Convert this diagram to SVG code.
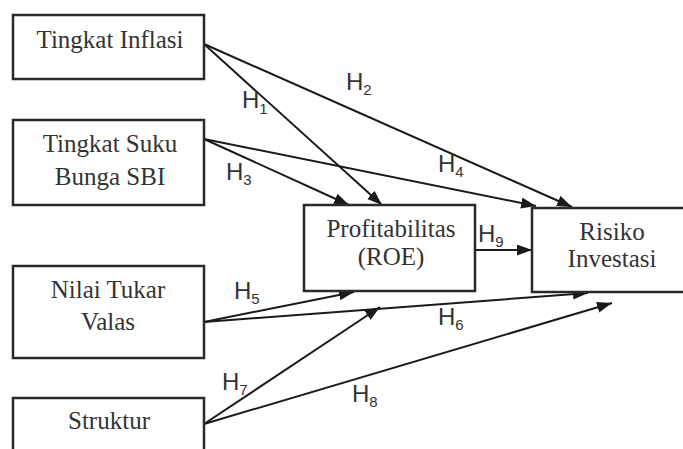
<svg xmlns="http://www.w3.org/2000/svg" width="683" height="449" viewBox="0 0 683 449">
<defs>
<marker id="arr" markerUnits="userSpaceOnUse" markerWidth="16" markerHeight="12" refX="15" refY="5.5" orient="auto">
<path d="M0,0 L15,5.5 L0,11 z" fill="#1a1a1a"/>
</marker>
<style>
.box{fill:#fff;stroke:#2a2a2a;stroke-width:2.5}
.t{font-family:"Liberation Serif","Times New Roman",serif;font-size:25px;fill:#333;text-anchor:middle}
.h{font-family:"Liberation Sans",Arial,sans-serif;font-size:24px;fill:#333}
.s{font-size:15px}
.c{stroke:#1a1a1a;stroke-width:2;fill:none;marker-end:url(#arr)}
</style>
</defs>
<rect width="683" height="449" fill="#fff"/>
<g id="connectors">
<line class="c" x1="204" y1="44" x2="382" y2="205"/>
<line class="c" x1="204" y1="44" x2="572" y2="207"/>
<line class="c" x1="204" y1="139" x2="349" y2="205"/>
<line class="c" x1="204" y1="139" x2="536" y2="206"/>
<line class="c" x1="475" y1="250" x2="532" y2="250"/>
<line class="c" x1="204" y1="322" x2="354" y2="292"/>
<line class="c" x1="204" y1="322" x2="588" y2="293"/>
<line class="c" x1="204" y1="424" x2="380" y2="307"/>
<line class="c" x1="204" y1="424" x2="612" y2="303"/>
</g>
<g id="labels">
<text class="h" x="242" y="108">H<tspan class="s" dy="6">1</tspan></text>
<text class="h" x="346" y="90">H<tspan class="s" dy="5">2</tspan></text>
<text class="h" x="226" y="180">H<tspan class="s" dy="5">3</tspan></text>
<text class="h" x="438" y="172">H<tspan class="s" dy="5">4</tspan></text>
<text class="h" x="234" y="299">H<tspan class="s" dy="5">5</tspan></text>
<text class="h" x="438" y="325">H<tspan class="s" dy="5">6</tspan></text>
<text class="h" x="222" y="390">H<tspan class="s" dy="5">7</tspan></text>
<text class="h" x="352" y="402">H<tspan class="s" dy="5">8</tspan></text>
<text class="h" x="478" y="242">H<tspan class="s" dy="5">9</tspan></text>
</g>
<g id="node-inflasi">
<rect class="box" x="13" y="15" width="191" height="64"/>
<text class="t" x="110" y="48">Tingkat Inflasi</text>
</g>
<g id="node-suku">
<rect class="box" x="13" y="120" width="191" height="85"/>
<text class="t" x="110" y="152">Tingkat Suku</text>
<text class="t" x="110" y="185">Bunga SBI</text>
</g>
<g id="node-nilai">
<rect class="box" x="13" y="266" width="191" height="92"/>
<text class="t" x="108" y="298">Nilai Tukar</text>
<text class="t" x="108" y="330">Valas</text>
</g>
<g id="node-struktur">
<rect class="box" x="13" y="398" width="191" height="70"/>
<text class="t" x="109" y="429">Struktur</text>
</g>
<g id="node-profit">
<rect class="box" x="304" y="205" width="171" height="86"/>
<text class="t" x="391" y="237">Profitabilitas</text>
<text class="t" x="391" y="265">(ROE)</text>
</g>
<g id="node-risiko">
<rect class="box" x="532" y="208" width="160" height="84"/>
<text class="t" x="612" y="240">Risiko</text>
<text class="t" x="612" y="267">Investasi</text>
</g>
</svg>
